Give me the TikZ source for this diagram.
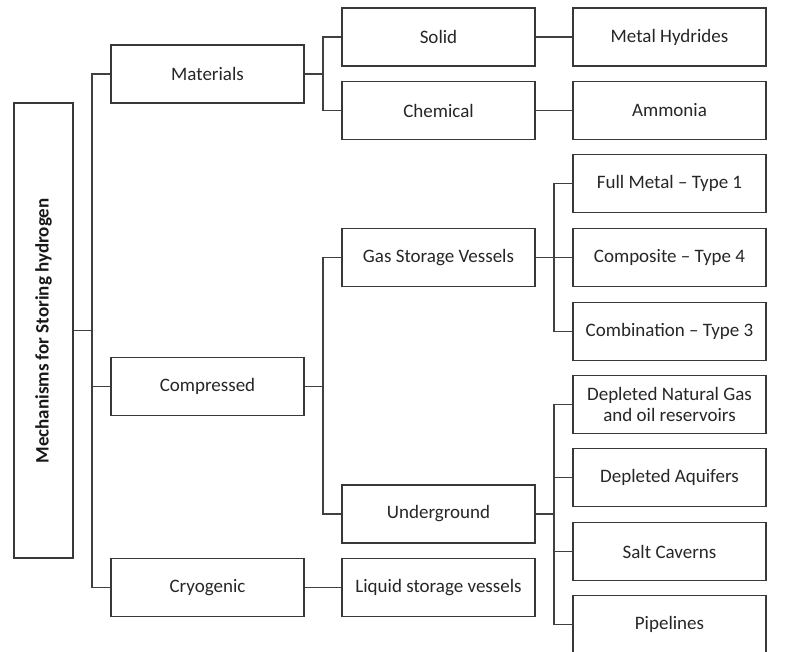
\documentclass[tikz,border=0pt]{standalone}
\usepackage{fontspec}
\setmainfont{Carlito}
\begin{document}
\begin{tikzpicture}[x=1pt,y=-1pt,
  box/.style={draw=black!78, line width=1.3pt, rectangle, minimum width=193pt, minimum height=58pt,
    inner sep=0pt, text=black!85, font=\fontsize{19}{21}\selectfont, align=center},
  link/.style={draw=black!75, line width=1.3pt}]
\useasboundingbox (0,0) rectangle (788,652);
\clip (0,0) rectangle (788,652);
% root
\node[box, minimum width=59pt, minimum height=455pt] (root) at (43.5,330.5) {};
\node[rotate=90, text=black!90, font=\fontsize{19}{21}\selectfont\bfseries] (roottext) at (43.5,331) {Mechanisms for Storing hydrogen};
% level 1
\node[box] (mat) at (207.5,74) {Materials};
\node[box] (comp) at (207.5,386.5) {Compressed};
\node[box] (cry) at (207.5,587.5) {Cryogenic};
% level 2
\node[box] (solid) at (438.5,37) {Solid};
\node[box] (chem) at (438.5,110.5) {Chemical};
\node[box] (gsv) at (438.5,257.5) {Gas Storage Vessels};
\node[box] (ug) at (438.5,514) {Underground};
\node[box] (liq) at (438.5,587.5) {Liquid storage vessels};
% level 3
\node[box] (mh) at (669.5,37) {Metal Hydrides};
\node[box] (amm) at (669.5,110.5) {Ammonia};
\node[box] (full) at (669.5,183.5) {Full Metal -- Type 1};
\node[box] (cmp4) at (669.5,257.5) {Composite -- Type 4};
\node[box] (cmb3) at (669.5,331.5) {Combination -- Type 3};
\node[box] (dep) at (669.5,404.5) {Depleted Natural Gas\\and oil reservoirs};
\node[box] (aq) at (669.5,477.5) {Depleted Aquifers};
\node[box] (salt) at (669.5,551.5) {Salt Caverns};
\node[box] (pipe) at (669.5,624.5) {Pipelines};
% bus points
\coordinate (b1) at (92,330.5);
\coordinate (b2) at (323,74);
\coordinate (b3) at (323,386.5);
\coordinate (b4) at (554,257.5);
\coordinate (b5) at (554,514);
% connectors
\draw[link] (root.east) -- (b1);
\draw[link] (mat.west) -| (b1) |- (cry.west);
\draw[link] (comp.west) -- (comp.west -| b1);
\draw[link] (mat.east) -- (b2);
\draw[link] (solid.west) -| (b2) |- (chem.west);
\draw[link] (comp.east) -- (b3);
\draw[link] (gsv.west) -| (b3) |- (ug.west);
\draw[link] (gsv.east) -- (cmp4.west);
\draw[link] (full.west) -| (b4) |- (cmb3.west);
\draw[link] (ug.east) -- (b5);
\draw[link] (dep.west) -| (b5) |- (pipe.west);
\draw[link] (aq.west) -- (aq.west -| b5);
\draw[link] (salt.west) -- (salt.west -| b5);
\draw[link] (solid.east) -- (mh.west);
\draw[link] (chem.east) -- (amm.west);
\draw[link] (cry.east) -- (liq.west);
\end{tikzpicture}
\end{document}
